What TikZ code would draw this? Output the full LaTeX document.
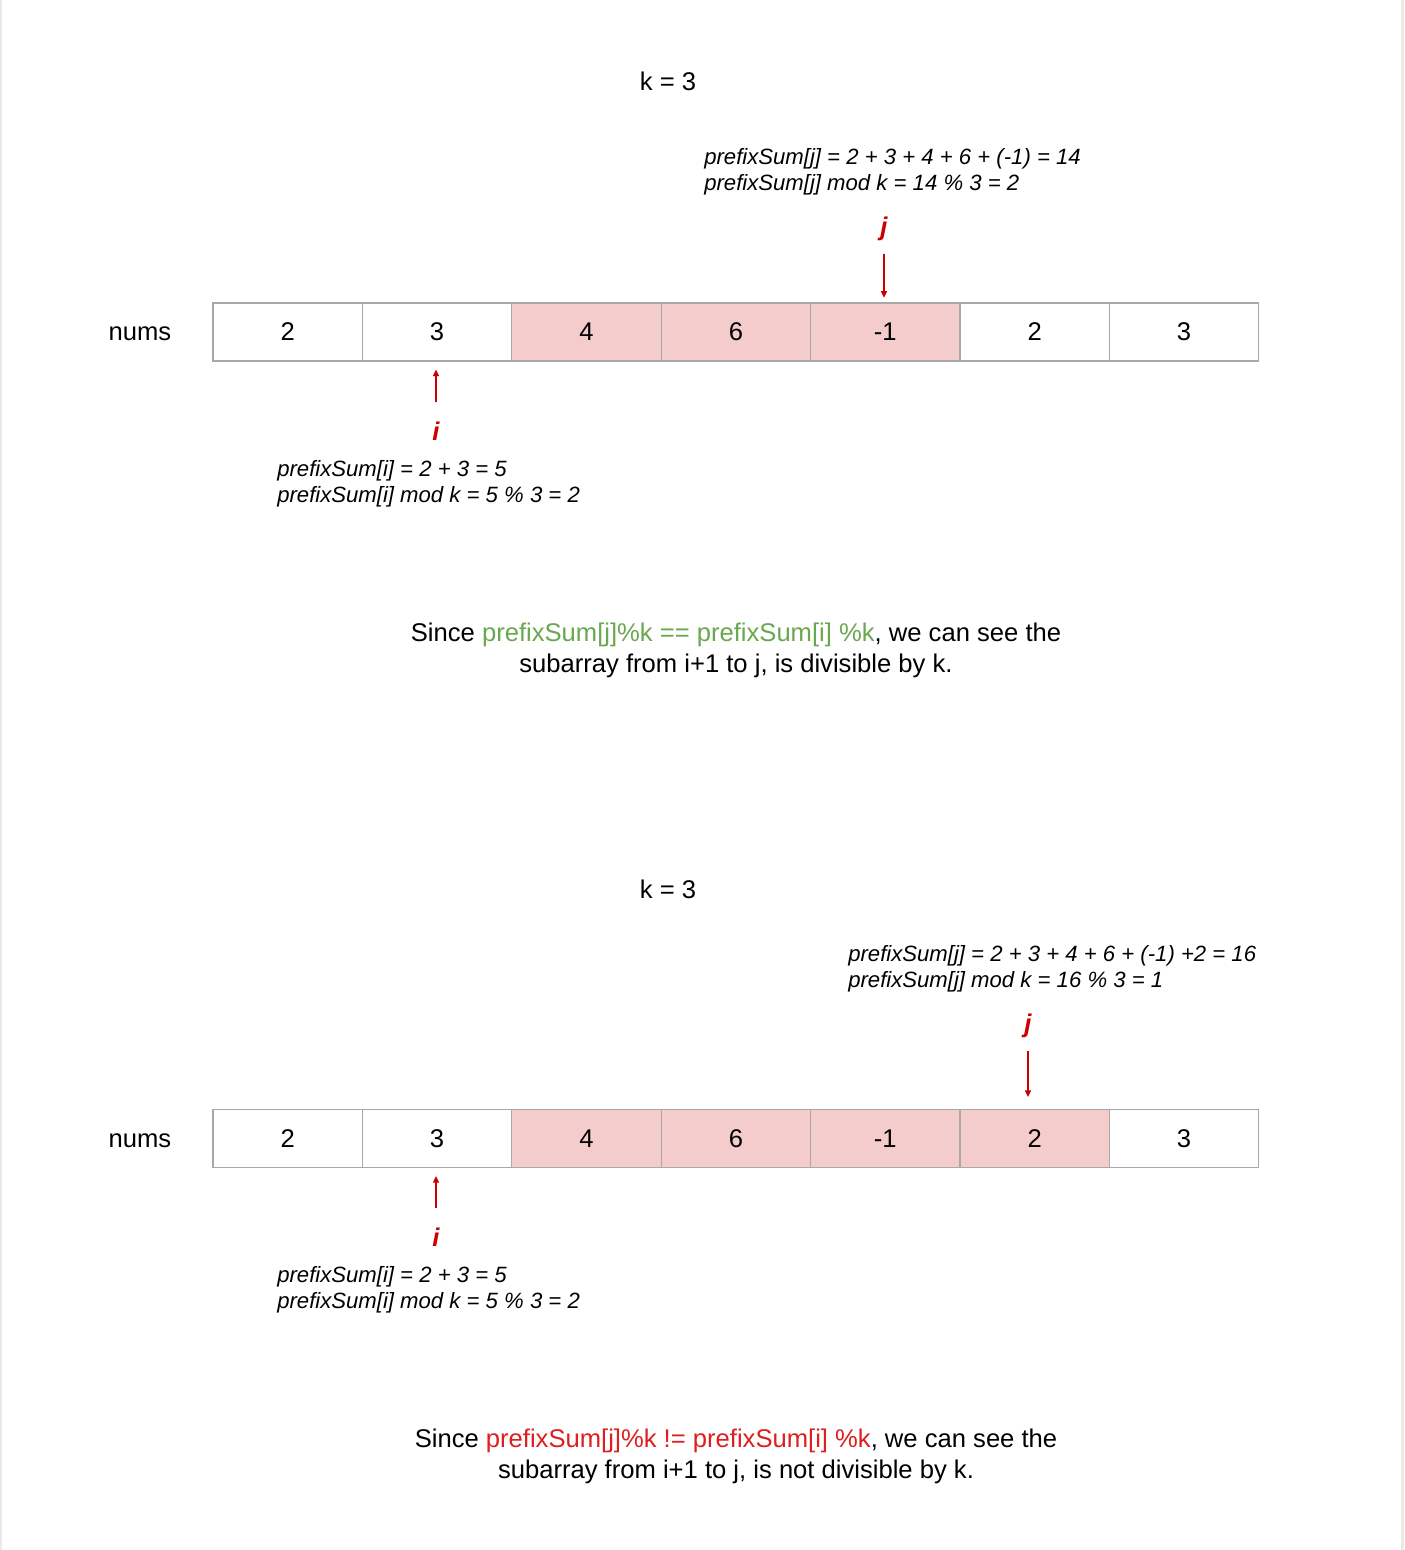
\documentclass[tikz,border=0pt]{standalone}
\usepackage{fontspec}
\setmainfont{Liberation Sans}
\usetikzlibrary{arrows.meta}
\definecolor{cellgray}{HTML}{A8A8A8}
\definecolor{hotpink}{HTML}{F4CCCC}
\definecolor{ptrred}{HTML}{CC0000}
\definecolor{okgreen}{HTML}{6AA84F}
\definecolor{badred}{HTML}{DD1F1F}
\definecolor{edgegray}{HTML}{EAEAEA}
\newcommand{\bigtxt}{\fontsize{19.2}{23.25}\selectfont}
\newcommand{\calctxt}{\fontsize{16.6}{19.5}\selectfont\itshape}

\begin{document}
\begin{tikzpicture}[x=0.75pt, y=-0.75pt,
    cell/.style={draw=cellgray, line width=0.8pt, minimum width=112.05pt, minimum height=43.5pt, inner sep=0pt, font=\bigtxt},
    hot/.style={cell, fill=hotpink},
    idx/.style={text=ptrred, font=\bigtxt\bfseries\itshape},
    ptr/.style={draw=ptrred, line width=1.1pt, -{Triangle[length=5pt,width=4.5pt]}},
    calc/.style={anchor=west, align=left, inner sep=0pt, font=\calctxt},
    note/.style={align=center, inner sep=0pt, font=\bigtxt}]
    \useasboundingbox (0,0) rectangle (1404,1550);
    \fill[white] (0,0) rectangle (1404,1550);
    \fill[edgegray] (0,0) rectangle (1.5,1550);
    \fill[edgegray] (1401,0) rectangle (1404,1550);

    % first case: prefix sums agree
    \node[font=\bigtxt] (k1) at (668, 81) {k = 3};
    \node[calc] (sumj1) at (704, 171.5) {prefixSum[j] = 2 + 3 + 4 + 6 + (-1) = 14\\prefixSum[j] mod k = 14 \% 3 = 2};
    \node[font=\bigtxt] (nums1) at (140, 334) {nums};

    \node[cell] (a1) at (287.7, 332) {2};
    \node[cell] (a2) at (437.1, 332) {3};
    \node[hot]  (a3) at (586.5, 332) {4};
    \node[hot]  (a4) at (735.9, 332) {6};
    \node[hot]  (a5) at (885.3, 332) {-1};
    \node[cell] (a6) at (1034.7, 332) {2};
    \node[cell] (a7) at (1184.1, 332) {3};

    \node[idx] (j1) at (884, 229) {j};
    \node[idx] (i1) at (436, 431) {i};
    \draw[ptr, shorten <=6pt, shorten >=3.5pt] (j1.south) -- (j1 |- a5.north);
    \draw[ptr, shorten <=11pt, shorten >=6pt] (i1.north) -- (i1 |- a2.south);

    \node[calc] (sumi1) at (277, 483.5) {prefixSum[i] = 2 + 3 = 5\\prefixSum[i] mod k = 5 \% 3 = 2};
    \node[note] (since1) at (736, 650.5) {Since \textcolor{okgreen}{prefixSum[j]\%k == prefixSum[i] \%k}, we can see the\\subarray from i+1 to j, is divisible by k.};

    % second case: prefix sums differ
    \node[font=\bigtxt] (k2) at (668, 889) {k = 3};
    \node[calc] (sumj2) at (848, 968.5) {prefixSum[j] = 2 + 3 + 4 + 6 + (-1) +2 = 16\\prefixSum[j] mod k = 16 \% 3 = 1};
    \node[font=\bigtxt] (nums2) at (140, 1140.5) {nums};

    \node[cell] (b1) at (287.7, 1138.5) {2};
    \node[cell] (b2) at (437.1, 1138.5) {3};
    \node[hot]  (b3) at (586.5, 1138.5) {4};
    \node[hot]  (b4) at (735.9, 1138.5) {6};
    \node[hot]  (b5) at (885.3, 1138.5) {-1};
    \node[hot]  (b6) at (1034.7, 1138.5) {2};
    \node[cell] (b7) at (1184.1, 1138.5) {3};

    \node[idx] (j2) at (1028, 1026) {j};
    \node[idx] (i2) at (436, 1237) {i};
    \draw[ptr, shorten <=6pt, shorten >=9pt] (j2.south) -- (j2 |- b6.north);
    \draw[ptr, shorten <=11pt, shorten >=6pt] (i2.north) -- (i2 |- b2.south);

    \node[calc] (sumi2) at (277, 1289.5) {prefixSum[i] = 2 + 3 = 5\\prefixSum[i] mod k = 5 \% 3 = 2};
    \node[note] (since2) at (736, 1456.5) {Since \textcolor{badred}{prefixSum[j]\%k != prefixSum[i] \%k}, we can see the\\subarray from i+1 to j, is not divisible by k.};
\end{tikzpicture}
\end{document}
